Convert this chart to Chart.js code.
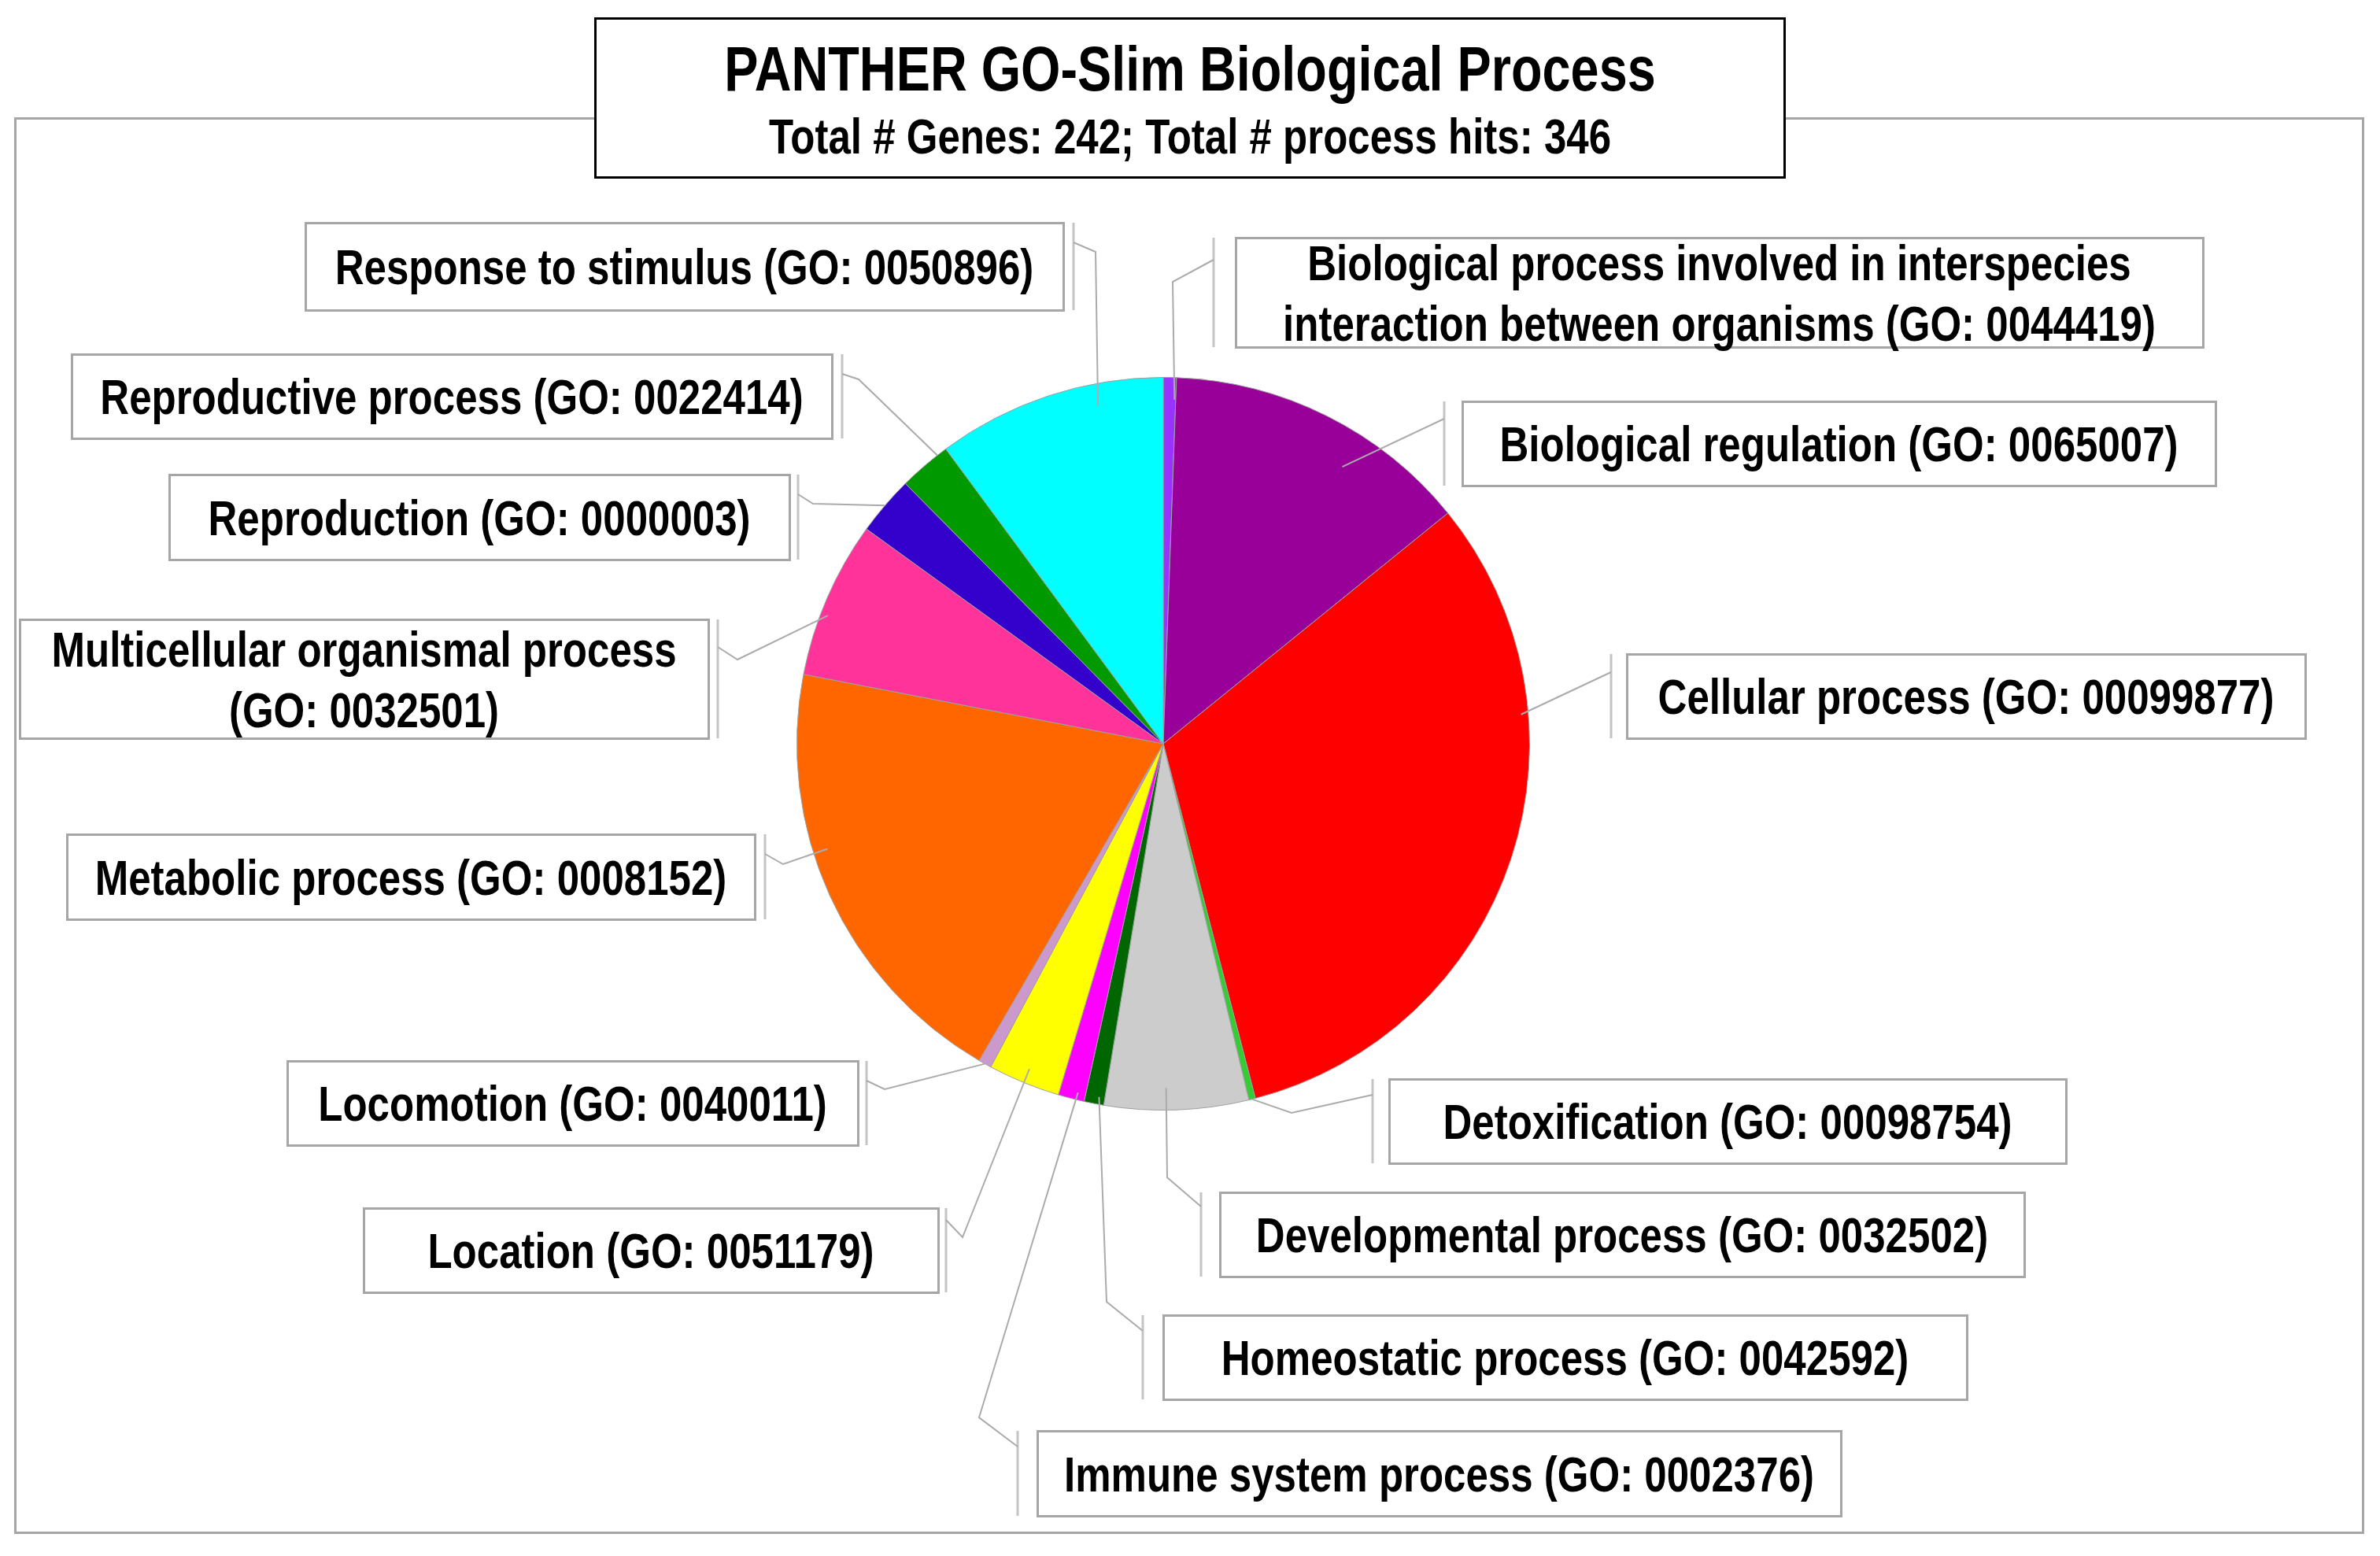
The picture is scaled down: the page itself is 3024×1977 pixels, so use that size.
<!DOCTYPE html>
<html>
<head>
<meta charset="utf-8">
<script src="https://cdn.jsdelivr.net/npm/chart.js@4.4.1/dist/chart.umd.min.js"></script>
<style>
  html, body { margin: 0; padding: 0; background: #ffffff; }
  #wrap { width: 3024px; height: 1977px; position: relative; }
</style>
</head>
<body>
<div id="wrap"><canvas id="c" width="3024" height="1977"></canvas></div>
<script>
// ---- Data ----
const titleText = 'PANTHER GO-Slim Biological Process';
const subtitleText = 'Total # Genes: 242; Total # process hits: 346';

const categories = [
  'Biological process involved in interspecies\ninteraction between organisms',
  'Biological regulation',
  'Cellular process',
  'Detoxification',
  'Developmental process',
  'Homeostatic process',
  'Immune system process',
  'Location',
  'Locomotion',
  'Metabolic process',
  'Multicellular organismal process\n',
  'Reproduction',
  'Reproductive process',
  'Response to stimulus'
];
const goIds = [
  '0044419', '0065007', '00099877', '00098754', '0032502', '0042592', '0002376',
  '0051179', '0040011', '0008152', '0032501', '0000003', '0022414', '0050896'
];
const processHits = [2, 47, 110, 1, 22, 3, 4, 11, 2, 68, 24, 9, 8, 35];
const sliceColors = [
  '#9933FF', '#990099', '#FF0000', '#33CC33', '#CCCCCC', '#006600', '#FF00FF',
  '#FFFF00', '#CC99CC', '#FF6600', '#FF3399', '#3300CC', '#009900', '#00FFFF'
];

// ---- Layout of the callout boxes (positions only) ----
// box: [x1, y1, x2, y2]; bx: bracket x; by: start y on bracket; elbow: bend point; frac/k: anchor inside slice
const callouts = [
  { box: [1570, 302, 2799, 441], bx: 1542, by: 330, elbow: [1490, 358], frac: 0.9, k: 0.94 },
  { box: [1858, 510, 2815, 617], bx: 1835, by: 532, elbow: null, frac: 0.63, k: 0.90 },
  { box: [2067, 831, 2929, 938], bx: 2047, by: 854, elbow: null, frac: 0.30, k: 0.98 },
  { box: [1765, 1371, 2625, 1478], bx: 1744, by: 1391, elbow: [1641, 1414], frac: 0.5, k: 1.0 },
  { box: [1550, 1515, 2572, 1622], bx: 1526, by: 1533, elbow: [1483, 1496], frac: 0.57, k: 0.94 },
  { box: [1478, 1671, 2499, 1778], bx: 1452, by: 1691, elbow: [1406, 1654], frac: 0.3, k: 0.98 },
  { box: [1318, 1818, 2339, 1926], bx: 1293, by: 1838, elbow: [1244, 1801], frac: 0.3, k: 0.98 },
  { box: [462, 1535, 1192, 1642], bx: 1202, by: 1550, elbow: [1223, 1572], frac: 0.5, k: 0.96 },
  { box: [365, 1348, 1090, 1455], bx: 1101, by: 1373, elbow: [1124, 1384], frac: 0.5, k: 1.0 },
  { box: [85, 1060, 959, 1168], bx: 972, by: 1085, elbow: [995, 1098], frac: 0.6, k: 0.96 },
  { box: [25, 787, 900, 938], bx: 912, by: 822, elbow: [937, 838], frac: 0.4, k: 0.98 },
  { box: [215, 603, 1003, 711], bx: 1014, by: 628, elbow: [1033, 640], frac: 0.5, k: 1.0 },
  { box: [91, 450, 1057, 557], bx: 1070, by: 475, elbow: [1091, 482], frac: 0.8, k: 1.0 },
  { box: [388, 283, 1351, 394], bx: 1364, by: 308, elbow: [1392, 320], frac: 0.7, k: 0.94 }
];

const FONT = "'Liberation Sans', Arial, Helvetica, sans-serif";
const XSCALE = 0.81;

function labelLines(i) {
  const parts = categories[i].split('\n');
  const goTxt = '(GO: ' + goIds[i] + ')';
  if (parts.length === 1) return [parts[0] + ' ' + goTxt];
  if (parts[1] === '') return [parts[0], goTxt];
  return [parts[0], parts[1] + ' ' + goTxt];
}

function drawText(ctx, txt, cx, baseline, size) {
  ctx.save();
  ctx.font = 'bold ' + size + 'px ' + FONT;
  ctx.fillStyle = '#000000';
  ctx.textAlign = 'center';
  ctx.textBaseline = 'alphabetic';
  ctx.translate(cx, baseline);
  ctx.scale(XSCALE, 1);
  ctx.fillText(txt, 0, 0);
  ctx.restore();
}

const framePlugin = {
  id: 'frame',
  beforeDraw(chart) {
    const ctx = chart.ctx;
    ctx.save();
    ctx.fillStyle = '#ffffff';
    ctx.fillRect(0, 0, chart.width, chart.height);
    ctx.strokeStyle = '#a6a6a6';
    ctx.lineWidth = 3;
    ctx.strokeRect(19.5, 150.5, 2983, 1797);
    ctx.restore();
  },
  afterDraw(chart) {
    const ctx = chart.ctx;
    const meta = chart.getDatasetMeta(0);
    // title box
    ctx.save();
    ctx.fillStyle = '#ffffff';
    ctx.fillRect(756, 23, 1512, 203);
    ctx.strokeStyle = '#000000';
    ctx.lineWidth = 3;
    ctx.strokeRect(756.5, 23.5, 1511, 202);
    ctx.restore();
    drawText(ctx, titleText, 1512, 115, 80);
    drawText(ctx, subtitleText, 1512, 195, 63);

    // callouts
    callouts.forEach((c, i) => {
      const arc = meta.data[i];
      const p = arc.getProps(['x', 'y', 'startAngle', 'endAngle', 'outerRadius'], true);
      const ang = p.startAngle + c.frac * (p.endAngle - p.startAngle);
      const ax = p.x + Math.cos(ang) * p.outerRadius * c.k;
      const ay = p.y + Math.sin(ang) * p.outerRadius * c.k;

      ctx.save();
      // bracket
      ctx.strokeStyle = '#c4c4c4';
      ctx.lineWidth = 3;
      ctx.beginPath();
      ctx.moveTo(c.bx, c.box[1]);
      ctx.lineTo(c.bx, c.box[3]);
      ctx.stroke();
      // leader line
      ctx.strokeStyle = '#ababab';
      ctx.lineWidth = 2;
      ctx.beginPath();
      ctx.moveTo(c.bx, c.by);
      if (c.elbow) ctx.lineTo(c.elbow[0], c.elbow[1]);
      ctx.lineTo(ax, ay);
      ctx.stroke();
      // box
      const [x1, y1, x2, y2] = c.box;
      ctx.fillStyle = '#ffffff';
      ctx.fillRect(x1, y1, x2 - x1, y2 - y1);
      ctx.strokeStyle = '#a6a6a6';
      ctx.lineWidth = 3;
      ctx.strokeRect(x1 + 0.5, y1 + 0.5, x2 - x1, y2 - y1);
      ctx.restore();

      const lines = labelLines(i);
      const cx = (x1 + x2) / 2;
      const cy = (y1 + y2) / 2;
      const size = 63;
      const gap = 77;
      const capHalf = size * 0.358;
      lines.forEach((ln, j) => {
        const off = (j - (lines.length - 1) / 2) * gap;
        drawText(ctx, ln, cx, cy + off + capHalf, size);
      });
    });
  }
};

new Chart(document.getElementById('c'), {
  type: 'pie',
  data: {
    labels: categories.map((c, i) => labelLines(i).join(' ')),
    datasets: [{
      data: processHits,
      backgroundColor: sliceColors,
      borderColor: '#a0a0a0',
      borderWidth: 1
    }]
  },
  options: {
    responsive: false,
    animation: false,
    devicePixelRatio: 1,
    layout: { padding: { left: 1012, right: 1080, top: 479, bottom: 566 } },
    plugins: {
      legend: { display: false },
      tooltip: { enabled: false },
      title: { display: false }
    }
  },
  plugins: [framePlugin]
});
</script>
</body>
</html>
